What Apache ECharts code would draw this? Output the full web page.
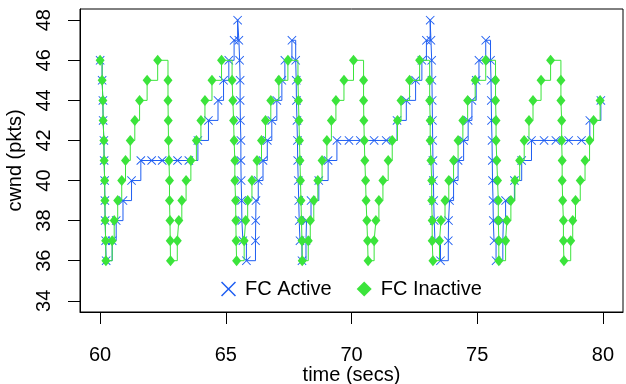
<!DOCTYPE html>
<html>
<head>
<meta charset="utf-8">
<script src="https://cdn.jsdelivr.net/npm/echarts@6/dist/echarts.min.js"></script>
<style>html,body{margin:0;padding:0;background:#fff}#c{width:626px;height:384px}</style>
</head>
<body>
<div id="c"></div>
<script>
// ---- data ----
var activeTime = [
  60.00,60.08,60.11,60.12,60.15,60.16,60.18,60.19,60.20,60.22,60.24,
  60.48,60.64,60.91,61.25,61.62,62.05,62.47,63.08,63.53,63.89,64.31,64.69,64.91,65.12,65.33,65.47,
  65.52,65.55,65.57,65.57,65.58,65.60,65.60,65.61,65.63,65.64,65.68,65.82,
  66.18,66.19,66.20,66.29,66.48,66.65,66.83,67.03,67.23,67.35,67.63,
  67.78,67.80,67.81,67.83,67.85,67.86,67.88,67.90,67.92,67.95,68.03,
  68.19,68.21,68.39,68.70,69.07,69.42,69.90,70.35,70.90,71.38,71.81,72.18,72.55,72.80,72.98,73.13,
  73.16,73.19,73.20,73.21,73.22,73.23,73.24,73.26,73.27,73.29,73.32,73.54,
  73.85,73.86,73.90,74.06,74.24,74.46,74.64,74.79,74.96,75.07,75.34,
  75.53,75.55,75.56,75.57,75.59,75.60,75.61,75.63,75.64,75.67,75.75,
  76.02,76.04,76.13,76.48,76.77,77.16,77.66,78.13,78.64,79.15,79.48,79.92
];
var activeCwnd = [
  46,45,44,43,42,41,40,39,38,37,36,
  37,38,39,40,41,41,41,41,41,42,43,44,45,46,47,48,
  47,46,45,44,43,42,41,40,39,38,37,36,
  37,38,39,40,41,42,43,44,45,46,47,
  46,45,44,43,42,41,40,39,38,37,36,
  37,38,39,40,41,42,42,42,42,42,43,44,45,46,47,48,
  47,46,45,44,43,42,41,40,39,38,37,36,
  37,38,39,40,41,42,43,44,45,46,47,
  46,45,44,43,42,41,40,39,38,37,36,
  37,38,39,40,41,42,42,42,42,42,43,44
];
var inactiveTime = [
  60.00,60.08,60.11,60.12,60.15,60.16,60.18,60.19,60.20,60.22,60.23,
  60.48,60.56,60.70,60.86,61.01,61.20,61.38,61.57,61.87,62.29,
  62.70,62.70,62.71,62.72,62.74,62.76,62.76,62.78,62.79,62.80,
  63.07,63.13,63.25,63.42,63.61,63.83,64.01,64.17,64.45,64.83,
  65.25,65.28,65.31,65.33,65.36,65.36,65.39,65.40,65.41,65.43,
  65.73,65.79,65.87,66.04,66.24,66.42,66.58,66.79,67.11,67.47,
  67.87,67.89,67.91,67.93,67.95,67.97,67.99,68.01,68.03,68.04,
  68.28,68.36,68.50,68.66,68.83,69.02,69.20,69.38,69.70,70.08,
  70.48,70.48,70.49,70.51,70.53,70.56,70.58,70.61,70.64,70.66,
  70.90,70.97,71.09,71.25,71.46,71.62,71.83,71.97,72.31,72.71,
  73.11,73.11,73.13,73.13,73.16,73.19,73.19,73.21,73.21,73.24,
  73.50,73.56,73.72,73.87,74.06,74.24,74.43,74.62,74.92,75.34,
  75.73,75.73,75.75,75.75,75.78,75.81,75.84,75.84,75.86,75.86,
  76.13,76.18,76.34,76.50,76.69,76.87,77.06,77.22,77.54,77.92,
  78.33,78.33,78.36,78.36,78.38,78.38,78.40,78.43,78.43,78.45,
  78.72,78.80,78.91,79.10,79.29,79.47,79.63,79.89
];
var inactiveCwnd = [
  46,45,44,43,42,41,40,39,38,37,36,
  37,38,39,40,41,42,43,44,45,46,
  45,44,43,42,41,40,39,38,37,36,
  37,38,39,40,41,42,43,44,45,46,
  45,44,43,42,41,40,39,38,37,36,
  37,38,39,40,41,42,43,44,45,46,
  45,44,43,42,41,40,39,38,37,36,
  37,38,39,40,41,42,43,44,45,46,
  45,44,43,42,41,40,39,38,37,36,
  37,38,39,40,41,42,43,44,45,46,
  45,44,43,42,41,40,39,38,37,36,
  37,38,39,40,41,42,43,44,45,46,
  45,44,43,42,41,40,39,38,37,36,
  37,38,39,40,41,42,43,44,45,46,
  45,44,43,42,41,40,39,38,37,36,
  37,38,39,40,41,42,43,44
];
var xTicks = [60, 65, 70, 75, 80];
var yTicks = [34, 36, 38, 40, 42, 44, 46, 48];
var seriesNames = ['FC Active', 'FC Inactive'];

function zip(a, b) { return a.map(function (t, i) { return [t, b[i]]; }); }

var BLUE = '#1f5ef2';
var GREEN = '#3be43b';
var XPATH = 'path://M0,0.7L0.7,0L5,4.3L9.3,0L10,0.7L5.7,5L10,9.3L9.3,10L5,5.7L0.7,10L0,9.3L4.3,5Z';
var FONT = 'Liberation Sans, Arial, Helvetica, sans-serif';

var chart = echarts.init(document.getElementById('c'), null, { renderer: 'canvas' });
chart.setOption({
  animation: false,
  backgroundColor: '#fff',
  grid: { left: 80, right: 3, top: 9, bottom: 72, show: true, borderColor: '#000', borderWidth: 1,
          backgroundColor: 'transparent', containLabel: false, outerBoundsMode: 'none' },
  legend: {
    left: 216, top: 274, orient: 'horizontal', itemWidth: 15, itemHeight: 15, itemGap: 25,
    textStyle: { fontFamily: FONT, fontSize: 20, color: '#000', padding: [0, 0, 0, 4] },
    data: [
      { name: seriesNames[0], icon: XPATH, itemStyle: { color: BLUE } },
      { name: seriesNames[1], icon: 'diamond', itemStyle: { color: GREEN } }
    ]
  },
  xAxis: {
    type: 'value', min: 59.2, max: 80.8,
    splitLine: { show: false },
    axisLine: { show: true, lineStyle: { color: '#000', width: 1 } },
    axisTick: { show: true, customValues: xTicks, length: 12, lineStyle: { color: '#000', width: 1 } },
    axisLabel: { customValues: xTicks, margin: 33, fontFamily: FONT, fontSize: 20, color: '#000' },
    name: 'time (secs)', nameLocation: 'middle', nameGap: 53, nameMoveOverlap: false,
    nameTextStyle: { fontFamily: FONT, fontSize: 20, color: '#000' }
  },
  yAxis: {
    type: 'value', min: 33.44, max: 48.56,
    splitLine: { show: false },
    axisLine: { show: true, lineStyle: { color: '#000', width: 1 } },
    axisTick: { show: true, customValues: yTicks, length: 12, lineStyle: { color: '#000', width: 1 } },
    axisLabel: { customValues: yTicks, rotate: 90, margin: 26, fontFamily: FONT, fontSize: 20, color: '#000' },
    name: 'cwnd (pkts)', nameLocation: 'middle', nameGap: 55, nameRotate: 90, nameMoveOverlap: false,
    nameTextStyle: { fontFamily: FONT, fontSize: 20, color: '#000' }
  },
  series: [
    {
      name: seriesNames[0], type: 'line', step: 'end', data: zip(activeTime, activeCwnd),
      symbol: XPATH, symbolSize: 9, showAllSymbol: true,
      lineStyle: { color: BLUE, width: 1 }, itemStyle: { color: BLUE }, z: 2
    },
    {
      name: seriesNames[1], type: 'line', step: 'end', data: zip(inactiveTime, inactiveCwnd),
      symbol: 'diamond', symbolSize: [9, 11], showAllSymbol: true,
      lineStyle: { color: GREEN, width: 1 }, itemStyle: { color: GREEN }, z: 3
    }
  ]
});
</script>
</body>
</html>
